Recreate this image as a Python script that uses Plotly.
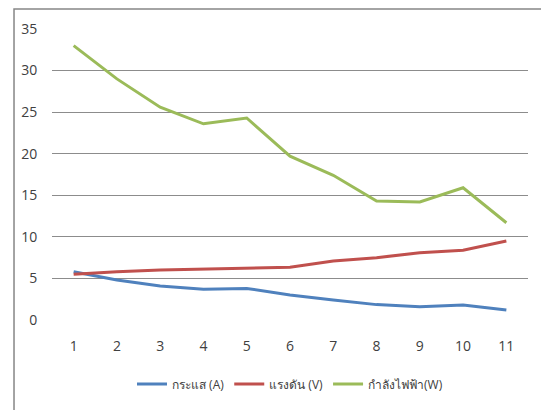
import plotly.graph_objects as go

# Measurement index (1..11)
points = [1, 2, 3, 4, 5, 6, 7, 8, 9, 10, 11]

# Series values
current_a = [5.8, 4.8, 4.1, 3.7, 3.8, 3.0, 2.4, 1.85, 1.6, 1.8, 1.2]
voltage_v = [5.5, 5.8, 6.0, 6.1, 6.25, 6.35, 7.1, 7.5, 8.1, 8.4, 9.5]
power_w = [33.0, 29.0, 25.6, 23.6, 24.3, 19.7, 17.4, 14.3, 14.2, 15.9, 11.7]

series_names = ["กระแส (A)", "แรงดัน (V)", "กำลังไฟฟ้า(W)"]
series_colors = ["#4F81BD", "#C0504D", "#9BBB59"]

y_ticks = [0, 5, 10, 15, 20, 25, 30, 35]

FONT = "Open Sans, Noto Sans, Liberation Sans, sans-serif"

fig = go.Figure()
for name, vals, color in zip(series_names, [current_a, voltage_v, power_w], series_colors):
    fig.add_trace(go.Scatter(
        x=[str(p) for p in points], y=vals, name=name, mode="lines",
        line=dict(color=color, width=3),
    ))

fig.update_layout(
    width=541, height=410,
    margin=dict(l=52, r=13, t=29, b=90),
    paper_bgcolor="white", plot_bgcolor="white",
    font=dict(family=FONT, size=14, color="#404040"),
    showlegend=True,
    legend=dict(orientation="h", x=0.5, xanchor="center", y=-0.22, yanchor="middle",
                font=dict(size=12, color="#404040"), itemwidth=30, tracegroupgap=0),
    xaxis=dict(type="category", range=[-0.5, len(points) - 0.5],
               showgrid=False, zeroline=False, showline=False,
               ticks="outside", ticklen=13, tickcolor="rgba(0,0,0,0)",
               tickfont=dict(size=14, color="#404040")),
    yaxis=dict(range=[0, 35], tickvals=y_ticks, showgrid=True, gridcolor="#8C8C8C",
               gridwidth=1, zeroline=False, showline=False,
               ticks="outside", ticklen=11, tickcolor="rgba(0,0,0,0)",
               tickfont=dict(size=14, color="#404040")),
    # outer frame: only the left and top edges fall inside the canvas
    shapes=[dict(type="path", xref="paper", yref="paper",
                 path="M -0.0798,-0.4 L -0.0798,1.0687 L 1.1,1.0687",
                 line=dict(color="#868686", width=1.5), layer="below")],
)

fig.write_html("out.html")
